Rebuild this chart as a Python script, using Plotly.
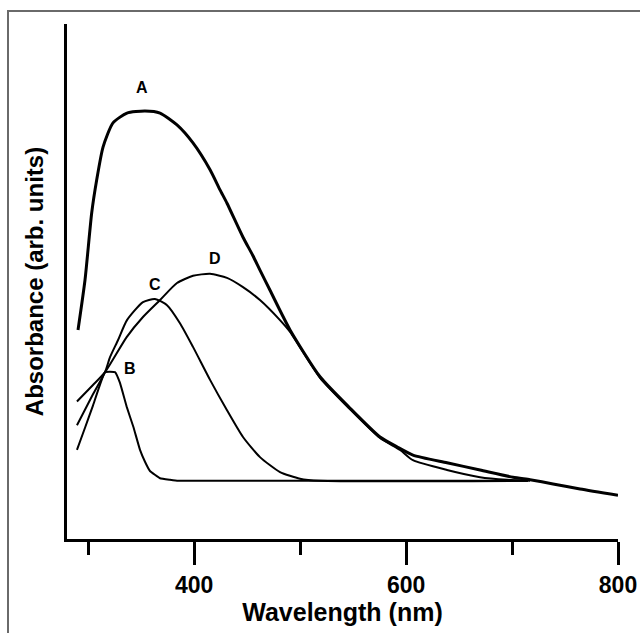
import plotly.graph_objects as go

# ---- data (wavelength in nm, absorbance in arbitrary units) ----
wl_A = [290.4, 297, 303.3, 308, 314, 323.4, 336.6, 353.6, 367.8, 383.8, 398.9, 415, 424.4, 431,
        446.1, 455.5, 462.1, 471.6, 490.5, 518.8, 547.1, 575.4, 591.4, 606.5, 638.6, 669.8,
        700.9, 717, 738.7, 764.2, 800]
abs_A = [0.406, 0.503, 0.633, 0.697, 0.761, 0.808, 0.827, 0.831, 0.827, 0.804, 0.769, 0.717, 0.678,
         0.652, 0.586, 0.550, 0.522, 0.483, 0.406, 0.315, 0.254, 0.198, 0.179, 0.163, 0.148, 0.134,
         0.120, 0.115, 0.107, 0.097, 0.085]

wl_B = [289.4, 297, 304.5, 315.9, 325.3, 330, 336.3, 342.6, 348.9, 353.6, 358.3, 367.8, 377.2, 385, 715]
abs_B = [0.173, 0.216, 0.259, 0.324, 0.324, 0.303, 0.257, 0.218, 0.173, 0.150, 0.132, 0.118, 0.115, 0.113, 0.113]

wl_C = [289.4, 304.5, 315.9, 320.6, 328.1, 336.6, 351.7, 363, 374.4, 386.6, 398.9, 415, 431, 446.1,
        462.1, 481, 499.9, 518.8, 715]
abs_C = [0.221, 0.281, 0.324, 0.353, 0.386, 0.425, 0.460, 0.466, 0.454, 0.419, 0.373, 0.309, 0.250,
         0.198, 0.159, 0.130, 0.117, 0.113, 0.113]

wl_D = [289.4, 304.5, 315.9, 336.3, 351.7, 367.8, 383.8, 398.9, 415, 431, 446.1, 462.1, 481, 490.5,
        518.8, 547.1, 575.4, 594.3, 606.5, 638.6, 669.8, 695.3, 717]
abs_D = [0.267, 0.299, 0.324, 0.392, 0.431, 0.464, 0.497, 0.511, 0.515, 0.507, 0.489, 0.464, 0.425,
         0.402, 0.313, 0.252, 0.196, 0.173, 0.153, 0.134, 0.120, 0.115, 0.113]

labels = ["A", "B", "C", "D"]
label_wl = [350.8, 339.5, 363, 419.7]
label_abs = [0.876, 0.331, 0.495, 0.544]

x_tickvals = [400, 600, 800]
x_minor_ticks = [300, 500, 700]

FONT = "Liberation Sans, Arial, sans-serif"

fig = go.Figure()
fig.add_trace(go.Scatter(x=wl_A, y=abs_A, mode="lines", line=dict(color="black", width=3, shape="spline", smoothing=0.6)))
fig.add_trace(go.Scatter(x=wl_B, y=abs_B, mode="lines", line=dict(color="black", width=2, shape="spline", smoothing=0.3)))
fig.add_trace(go.Scatter(x=wl_C, y=abs_C, mode="lines", line=dict(color="black", width=2, shape="spline", smoothing=0.6)))
fig.add_trace(go.Scatter(x=wl_D, y=abs_D, mode="lines", line=dict(color="black", width=2, shape="spline", smoothing=0.6)))

for t, xv, yv in zip(labels, label_wl, label_abs):
    fig.add_annotation(x=xv, y=yv, text="<b>%s</b>" % t, showarrow=False,
                       font=dict(family=FONT, size=16, color="black"))

# outer grey frame
fig.add_shape(type="rect", xref="paper", yref="paper",
              x0=(8 - 67) / 551, x1=(700 - 67) / 551, y0=(539 - 700) / 515, y1=(539 - 11) / 515,
              line=dict(color="#6a6a6a", width=2), layer="below")

fig.update_layout(
    width=640, height=633,
    margin=dict(l=67, r=22, t=24, b=94, autoexpand=False),
    paper_bgcolor="white", plot_bgcolor="white",
    showlegend=False,
    font=dict(family=FONT, color="black"),
    xaxis=dict(range=[280, 800], showgrid=False, zeroline=False, automargin=False,
               showline=True, linecolor="black", linewidth=3,
               tickmode="array", tickvals=x_tickvals, ticks="outside", ticklen=23, tickwidth=3,
               tickcolor="black",
               tickfont=dict(family=FONT, size=23, color="black", weight="bold"),
               minor=dict(tickmode="array", tickvals=x_minor_ticks, ticks="outside", ticklen=13,
                          tickwidth=3, tickcolor="black"),
               title=dict(text="<b>Wavelength (nm)</b>", font=dict(family=FONT, size=25), standoff=0)),
    yaxis=dict(range=[0, 1], showgrid=False, zeroline=False, showticklabels=False, automargin=False,
               showline=True, linecolor="black", linewidth=3, ticks="",
               title=dict(text="<b>Absorbance (arb. units)</b>", font=dict(family=FONT, size=24), standoff=14)),
)

fig.write_html("out.html")
